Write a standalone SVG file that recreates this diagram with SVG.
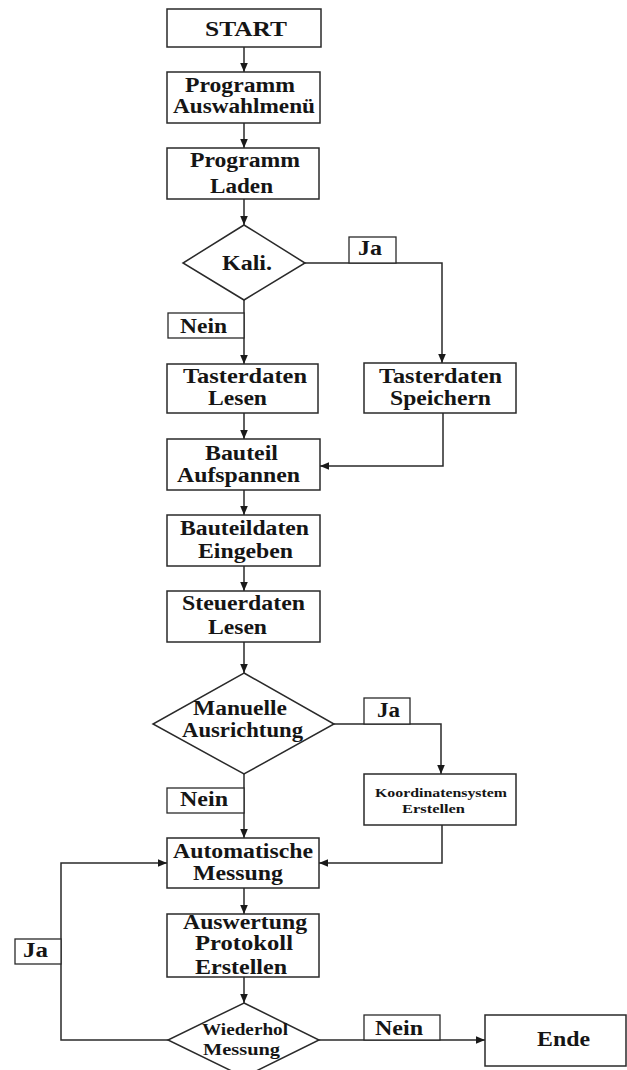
<svg xmlns="http://www.w3.org/2000/svg" width="627" height="1070" viewBox="0 0 627 1070">
  <style>
    .box { fill: #ffffff; stroke: #2a2a2a; stroke-width: 1.5; }
    .lbl { fill: #ffffff; stroke: #2a2a2a; stroke-width: 1.3; }
    .t { font-family: "Liberation Serif", "Times New Roman", serif; font-weight: bold; font-size: 20px; fill: #151515; }
    .ts { font-size: 16px; }
    .tx { font-size: 12px; }
    .line { fill: none; stroke: #2a2a2a; stroke-width: 1.5; }
  </style>
  <defs>
    <marker id="arrow" markerUnits="userSpaceOnUse" markerWidth="11" markerHeight="10" refX="10" refY="5" orient="auto">
      <path d="M1,1.2 L10,5 L1,8.8 Z" fill="#1a1a1a"/>
    </marker>
  </defs>
  <rect width="627" height="1070" fill="#ffffff"/>

  <!-- connectors -->
  <g id="connectors" class="line">
    <path d="M244,47 V72" marker-end="url(#arrow)"/>
    <path d="M244,123 V148" marker-end="url(#arrow)"/>
    <path d="M244,199 V225" marker-end="url(#arrow)"/>
    <path d="M305,263 H442 V363" marker-end="url(#arrow)"/>
    <path d="M244,300 V364" marker-end="url(#arrow)"/>
    <path d="M244,413 V439" marker-end="url(#arrow)"/>
    <path d="M443,413 V466 H320" marker-end="url(#arrow)"/>
    <path d="M244,490 V515" marker-end="url(#arrow)"/>
    <path d="M244,566 V591" marker-end="url(#arrow)"/>
    <path d="M244,642 V673" marker-end="url(#arrow)"/>
    <path d="M334,724 H441 V774" marker-end="url(#arrow)"/>
    <path d="M244,774 V838" marker-end="url(#arrow)"/>
    <path d="M442,825 V863 H319" marker-end="url(#arrow)"/>
    <path d="M244,888 V914" marker-end="url(#arrow)"/>
    <path d="M244,977 V1003" marker-end="url(#arrow)"/>
    <path d="M168,1040 H61 V863 H167" marker-end="url(#arrow)"/>
    <path d="M319,1040 H485" marker-end="url(#arrow)"/>
  </g>

  <!-- edge labels -->
  <g id="label-ja-1">
    <rect class="lbl" x="349" y="237" width="47" height="26"/>
    <text class="t" x="358" y="255" textLength="24" lengthAdjust="spacingAndGlyphs">Ja</text>
  </g>
  <g id="label-nein-1">
    <rect class="lbl" x="168" y="313" width="76" height="25"/>
    <text class="t" x="180" y="333" textLength="47" lengthAdjust="spacingAndGlyphs">Nein</text>
  </g>
  <g id="label-ja-2">
    <rect class="lbl" x="364" y="698" width="46" height="26"/>
    <text class="t" x="377" y="717" textLength="23" lengthAdjust="spacingAndGlyphs">Ja</text>
  </g>
  <g id="label-nein-2">
    <rect class="lbl" x="167" y="788" width="77" height="25"/>
    <text class="t" x="180" y="806" textLength="48" lengthAdjust="spacingAndGlyphs">Nein</text>
  </g>
  <g id="label-ja-3">
    <rect class="lbl" x="15" y="939" width="46" height="25"/>
    <text class="t" x="23" y="957" textLength="25" lengthAdjust="spacingAndGlyphs">Ja</text>
  </g>
  <g id="label-nein-3">
    <rect class="lbl" x="364" y="1015" width="76" height="25"/>
    <text class="t" x="375" y="1035" textLength="48" lengthAdjust="spacingAndGlyphs">Nein</text>
  </g>

  <!-- nodes -->
  <g id="start">
    <rect class="box" x="167" y="9" width="154" height="38"/>
    <text class="t" x="205" y="36" textLength="82" lengthAdjust="spacingAndGlyphs">START</text>
  </g>
  <g id="programm-auswahlmenue">
    <rect class="box" x="167" y="72" width="153" height="51"/>
    <text class="t" x="185" y="92" textLength="110" lengthAdjust="spacingAndGlyphs">Programm</text>
    <text class="t" x="173" y="113" textLength="142" lengthAdjust="spacingAndGlyphs">Auswahlmenü</text>
  </g>
  <g id="programm-laden">
    <rect class="box" x="167" y="148" width="152" height="51"/>
    <text class="t" x="190" y="167" textLength="110" lengthAdjust="spacingAndGlyphs">Programm</text>
    <text class="t" x="210" y="193" textLength="63" lengthAdjust="spacingAndGlyphs">Laden</text>
  </g>
  <g id="kali">
    <polygon class="box" points="244,225 305,263 244,300 183,263"/>
    <text class="t" x="222" y="270" textLength="50" lengthAdjust="spacingAndGlyphs">Kali.</text>
  </g>
  <g id="tasterdaten-lesen">
    <rect class="box" x="167" y="364" width="151" height="49"/>
    <text class="t" x="183" y="383" textLength="124" lengthAdjust="spacingAndGlyphs">Tasterdaten</text>
    <text class="t" x="208" y="405" textLength="59" lengthAdjust="spacingAndGlyphs">Lesen</text>
  </g>
  <g id="tasterdaten-speichern">
    <rect class="box" x="364" y="363" width="152" height="50"/>
    <text class="t" x="379" y="383" textLength="123" lengthAdjust="spacingAndGlyphs">Tasterdaten</text>
    <text class="t" x="390" y="405" textLength="101" lengthAdjust="spacingAndGlyphs">Speichern</text>
  </g>
  <g id="bauteil-aufspannen">
    <rect class="box" x="167" y="439" width="153" height="51"/>
    <text class="t" x="205" y="460" textLength="73" lengthAdjust="spacingAndGlyphs">Bauteil</text>
    <text class="t" x="177" y="482" textLength="123" lengthAdjust="spacingAndGlyphs">Aufspannen</text>
  </g>
  <g id="bauteildaten-eingeben">
    <rect class="box" x="167" y="515" width="153" height="51"/>
    <text class="t" x="180" y="535" textLength="129" lengthAdjust="spacingAndGlyphs">Bauteildaten</text>
    <text class="t" x="198" y="558" textLength="95" lengthAdjust="spacingAndGlyphs">Eingeben</text>
  </g>
  <g id="steuerdaten-lesen">
    <rect class="box" x="167" y="591" width="153" height="51"/>
    <text class="t" x="182" y="610" textLength="123" lengthAdjust="spacingAndGlyphs">Steuerdaten</text>
    <text class="t" x="208" y="634" textLength="59" lengthAdjust="spacingAndGlyphs">Lesen</text>
  </g>
  <g id="manuelle-ausrichtung">
    <polygon class="box" points="244,673 334,724 244,774 153,724"/>
    <text class="t" x="193" y="715" textLength="94" lengthAdjust="spacingAndGlyphs">Manuelle</text>
    <text class="t" x="182" y="737" textLength="121" lengthAdjust="spacingAndGlyphs">Ausrichtung</text>
  </g>
  <g id="koordinatensystem-erstellen">
    <rect class="box" x="364" y="774" width="152" height="51"/>
    <text class="t tx" x="375" y="797" textLength="132" lengthAdjust="spacingAndGlyphs">Koordinatensystem</text>
    <text class="t tx" x="402" y="813" textLength="63" lengthAdjust="spacingAndGlyphs">Erstellen</text>
  </g>
  <g id="automatische-messung">
    <rect class="box" x="167" y="838" width="152" height="50"/>
    <text class="t" x="173" y="858" textLength="140" lengthAdjust="spacingAndGlyphs">Automatische</text>
    <text class="t" x="193" y="880" textLength="90" lengthAdjust="spacingAndGlyphs">Messung</text>
  </g>
  <g id="auswertung-protokoll">
    <rect class="box" x="167" y="914" width="152" height="63"/>
    <text class="t" x="183" y="929" textLength="124" lengthAdjust="spacingAndGlyphs">Auswertung</text>
    <text class="t" x="195" y="950" textLength="98" lengthAdjust="spacingAndGlyphs">Protokoll</text>
    <text class="t" x="195" y="974" textLength="92" lengthAdjust="spacingAndGlyphs">Erstellen</text>
  </g>
  <g id="wiederhol-messung">
    <polygon class="box" points="244,1003 319,1040 244,1077 168,1040"/>
    <text class="t ts" x="202" y="1035" textLength="86" lengthAdjust="spacingAndGlyphs">Wiederhol</text>
    <text class="t ts" x="203" y="1055" textLength="77" lengthAdjust="spacingAndGlyphs">Messung</text>
  </g>
  <g id="ende">
    <rect class="box" x="485" y="1015" width="141" height="51"/>
    <text class="t" x="537" y="1046" textLength="53" lengthAdjust="spacingAndGlyphs">Ende</text>
  </g>
</svg>
